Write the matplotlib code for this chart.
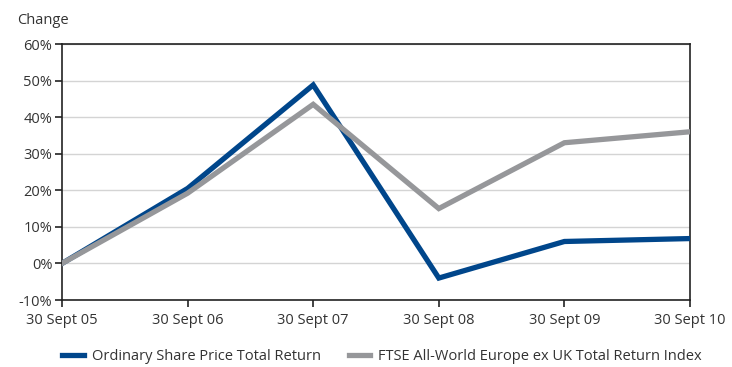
import matplotlib
matplotlib.use('Agg')
import matplotlib.pyplot as plt
from matplotlib.ticker import FuncFormatter

dates = ['30 Sept 05', '30 Sept 06', '30 Sept 07', '30 Sept 08', '30 Sept 09', '30 Sept 10']
share_price = [0, 20.5, 48.8, -4.0, 6.0, 6.8]
ftse_index = [0, 19.2, 43.5, 15.0, 33.0, 36.0]
series_names = ['Ordinary Share Price Total Return',
                'FTSE All-World Europe ex UK Total Return Index']

plt.rcParams['font.family'] = ['Open Sans', 'DejaVu Sans']
text_col = '#333333'

fig = plt.figure(figsize=(7.32, 3.67), dpi=100)
ax = fig.add_axes([62/732, 1 - 300/367, 628/732, 256/367])

x = range(len(dates))
l1, = ax.plot(x, share_price, color='#00468b', lw=3.8, solid_joinstyle='miter', zorder=3)
l2, = ax.plot(x, ftse_index, color='#96979a', lw=3.8, solid_joinstyle='miter', zorder=3)

ax.set_xlim(0, len(dates) - 1)
ax.set_ylim(-10, 60)
ax.set_yticks(range(-10, 61, 10))
ax.yaxis.set_major_formatter(FuncFormatter(lambda v, p: f'{int(v)}%'))
ax.set_xticks(list(x))
ax.set_xticklabels(dates)
ax.grid(axis='y', color='#d4d4d4', lw=1)
ax.set_axisbelow(True)

for s in ax.spines.values():
    s.set_color('#222222')
    s.set_linewidth(1.2)
ax.tick_params(axis='both', colors='#222222', labelcolor=text_col, labelsize=10.5,
               length=5, width=1.2)
ax.tick_params(axis='x', pad=4)
ax.tick_params(axis='y', pad=2)

fig.text(17/732, 1 - 20/367, 'Change', fontsize=10.5, color=text_col, va='center', ha='left')

fig.legend([l1, l2], series_names, loc='center left', bbox_to_anchor=(62/732, 1 - 357/367),
           ncol=2, frameon=False, fontsize=10.5, labelcolor=text_col,
           handlelength=1.5, handletextpad=0.55, columnspacing=1.9, borderaxespad=0,
           borderpad=0)

fig.savefig('out.png', dpi=100)
